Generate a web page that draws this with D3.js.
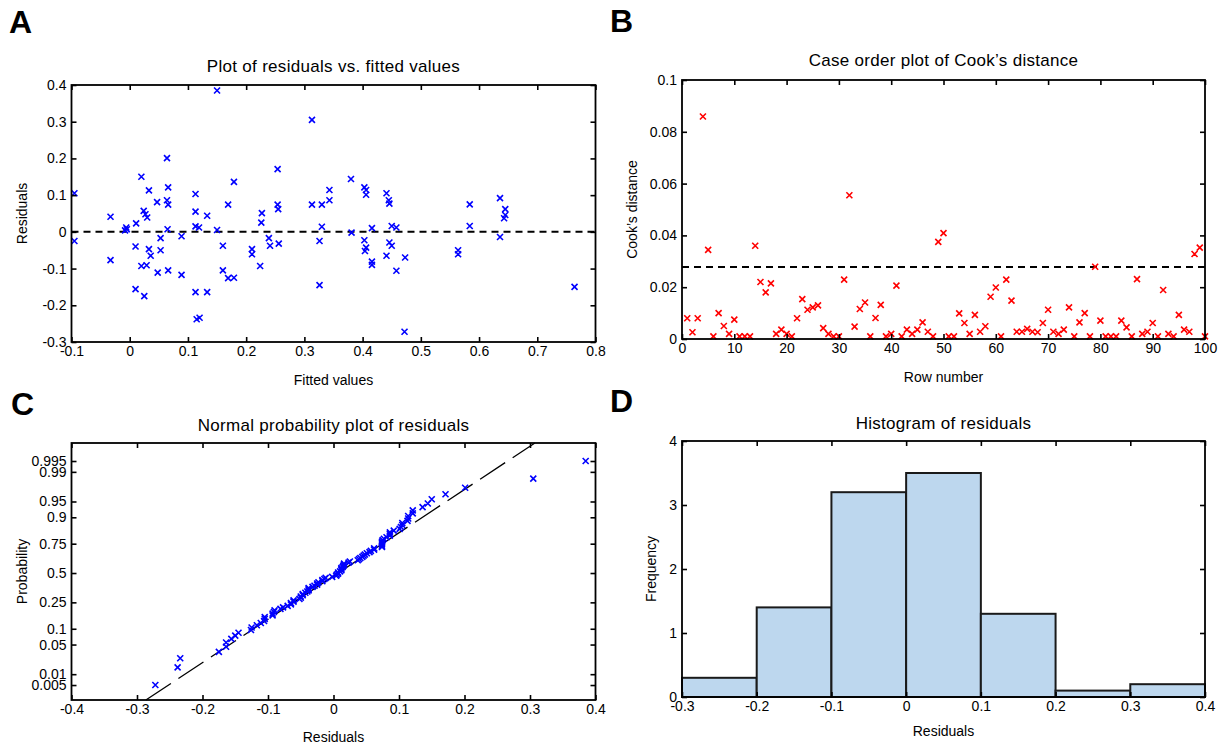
<!DOCTYPE html>
<html>
<head>
<meta charset="utf-8">
<script src="https://cdn.jsdelivr.net/npm/d3@7"></script>
<style>
  body { margin: 0; background: #fff; }
  svg { font-family: "Liberation Sans", Arial, Helvetica, sans-serif; }
</style>
</head>
<body>
<svg id="chart" width="1228" height="746"></svg>
<script>
// ---- data ----
// A: residuals vs fitted values (100 cases)
const fitted = [-0.095,-0.095,-0.033,-0.033,-0.006,-0.005,0.011,0.010,0.010,0.020,
  0.024,0.027,0.030,0.020,0.029,0.025,0.033,0.033,0.036,0.047,
  0.053,0.053,0.048,0.064,0.066,0.064,0.066,0.065,0.066,0.089,
  0.089,0.113,0.113,0.113,0.119,0.113,0.115,0.120,0.133,0.133,
  0.150,0.150,0.160,0.160,0.169,0.169,0.179,0.179,0.210,0.210,
  0.224,0.227,0.226,0.239,0.241,0.254,0.254,0.255,0.256,0.313,
  0.313,0.326,0.330,0.330,0.326,0.343,0.343,0.380,0.381,0.403,
  0.406,0.406,0.403,0.406,0.404,0.416,0.416,0.416,0.441,0.445,
  0.446,0.450,0.458,0.446,0.450,0.441,0.458,0.473,0.472,0.564,
  0.564,0.584,0.584,0.636,0.636,0.645,0.645,0.643,0.764,-0.008];
const residuals = [0.105,-0.025,0.041,-0.077,0.012,0.007,0.023,-0.040,-0.156,0.150,
  0.057,0.048,0.039,-0.093,-0.091,-0.175,0.113,-0.047,-0.065,0.081,
  -0.017,-0.050,-0.111,0.201,0.121,0.086,0.074,0.007,-0.105,-0.012,
  -0.117,0.103,0.055,0.015,0.012,-0.164,-0.238,-0.234,0.044,-0.164,
  0.385,0.005,-0.038,-0.105,0.074,-0.126,0.136,-0.125,-0.047,-0.061,
  -0.093,0.051,0.025,-0.017,-0.038,0.171,0.074,0.062,-0.032,0.305,
  0.074,-0.025,0.074,0.014,-0.145,0.114,0.086,0.144,-0.002,0.121,
  0.114,0.101,-0.023,-0.043,-0.052,0.010,-0.081,-0.090,0.105,0.086,
  0.077,0.016,0.012,-0.029,-0.038,-0.065,-0.106,-0.070,-0.272,-0.050,
  -0.061,0.075,0.016,0.092,-0.014,0.062,0.046,0.037,-0.150,0.004];

// B: Cook's distance by row number 1..100
const cooksD = [0.008,0.0026,0.008,0.0859,0.0344,0.001,0.010,0.005,0.002,0.0075,
  0.001,0.001,0.001,0.036,0.022,0.018,0.0215,0.002,0.0036,0.002,
  0.001,0.008,0.0154,0.0113,0.0122,0.013,0.0042,0.002,0.001,0.001,
  0.0229,0.0555,0.0048,0.0116,0.0141,0.001,0.0081,0.0132,0.001,0.002,
  0.0206,0.001,0.0036,0.002,0.0036,0.0064,0.0028,0.001,0.0375,0.0409,
  0.001,0.001,0.0099,0.0062,0.002,0.0093,0.0028,0.0049,0.0163,0.0199,
  0.001,0.0229,0.0148,0.0028,0.0028,0.0039,0.0028,0.0026,0.0062,0.0113,
  0.0028,0.002,0.0036,0.0122,0.001,0.0064,0.010,0.001,0.0279,0.0071,
  0.001,0.001,0.001,0.0071,0.0045,0.001,0.0231,0.002,0.0028,0.0062,
  0.001,0.0189,0.002,0.001,0.0093,0.0036,0.0028,0.0328,0.0353,0.001];
const cooksCutoff = 0.0278;

// C: probability tick labels and the reference line (mean + sd * z)
const probTicks = [0.005,0.01,0.05,0.1,0.25,0.5,0.75,0.9,0.95,0.99,0.995];
const probLabels = ["0.005","0.01","0.05","0.1","0.25","0.5","0.75","0.9","0.95","0.99","0.995"];
const refMean = 0.007, refSd = 0.1005;

// D: histogram of residuals
const binEdges = [-0.3,-0.2,-0.1,0,0.1,0.2,0.3,0.4];
const binHeights = [0.3,1.4,3.2,3.5,1.3,0.1,0.2];

// ---- helpers ----
const svg = d3.select("#chart");
const fmt = d => String(+(+d).toFixed(3));

// inverse of the standard normal cdf (Acklam)
function probit(p){
  const a=[-39.69683028665376,220.9460984245205,-275.9285104469687,138.3577518672690,-30.66479806614716,2.506628277459239],
        b=[-54.47609879822406,161.5858368580409,-155.6989798598866,66.80131188771972,-13.28068155288572],
        c=[-0.007784894002430293,-0.3223964580411365,-2.400758277161838,-2.549732539343734,4.374664141464968,2.938163982698783],
        d=[0.007784695709041462,0.3224671290700398,2.445134137142996,3.754408661907416];
  const lo=0.02425;
  let q,r;
  if(p<lo){
    q=Math.sqrt(-2*Math.log(p));
    return (((((c[0]*q+c[1])*q+c[2])*q+c[3])*q+c[4])*q+c[5])/((((d[0]*q+d[1])*q+d[2])*q+d[3])*q+1);
  }
  if(p>1-lo){
    q=Math.sqrt(-2*Math.log(1-p));
    return -(((((c[0]*q+c[1])*q+c[2])*q+c[3])*q+c[4])*q+c[5])/((((d[0]*q+d[1])*q+d[2])*q+d[3])*q+1);
  }
  q=p-0.5; r=q*q;
  return (((((a[0]*r+a[1])*r+a[2])*r+a[3])*r+a[4])*r+a[5])*q/(((((b[0]*r+b[1])*r+b[2])*r+b[3])*r+b[4])*r+1);
}

// MATLAB-like box: ticks pointing in on all four sides
function drawFrame(cfg){
  const g = svg.append("g");
  const x = cfg.x, y = cfg.y;
  const [x0,x1] = x.range(), [y1,y0] = y.range();

  let ab = d3.axisBottom(x).tickValues(cfg.xTicks).tickFormat(cfg.xFormat || fmt).tickSizeInner(-5).tickSizeOuter(0).tickPadding(4);
  let al = d3.axisLeft(y).tickValues(cfg.yTicks).tickFormat(cfg.yFormat || fmt).tickSizeInner(-5).tickSizeOuter(0).tickPadding(5);
  let at = d3.axisTop(x).tickValues(cfg.xTicks).tickFormat("").tickSizeInner(-5).tickSizeOuter(0);
  let ar = d3.axisRight(y).tickValues(cfg.yTicks).tickFormat("").tickSizeInner(-5).tickSizeOuter(0);

  g.append("g").attr("transform","translate(0,"+y1+")").call(ab);
  g.append("g").attr("transform","translate("+x0+",0)").call(al);
  g.append("g").attr("transform","translate(0,"+y0+")").call(at);
  g.append("g").attr("transform","translate("+x1+",0)").call(ar);
  g.selectAll(".domain").remove();
  g.selectAll(".tick line").attr("stroke","#000").attr("stroke-width",1.6);
  g.selectAll(".tick text").attr("fill","#000").style("font-size","14px");

  g.append("rect").attr("x",x0).attr("y",y0).attr("width",x1-x0).attr("height",y1-y0)
    .attr("fill","none").attr("stroke","#000").attr("stroke-width",1.8);

  const cx = (x0+x1)/2;
  svg.append("text").attr("x",cx).attr("y",cfg.titleY).attr("text-anchor","middle")
    .style("font-size","17px").style("letter-spacing","0.3px").text(cfg.title);
  svg.append("text").attr("x",cx).attr("y",cfg.xLabelY).attr("text-anchor","middle")
    .style("font-size","14px").text(cfg.xLabel);
  svg.append("text").attr("transform","translate("+cfg.yLabelX+","+((y0+y1)/2)+") rotate(-90)")
    .attr("text-anchor","middle").style("font-size","14px").text(cfg.yLabel);
  svg.append("text").attr("x",cfg.letter[1]).attr("y",cfg.letter[2])
    .style("font-size","32px").style("font-weight","bold").text(cfg.letter[0]);
  return g;
}

function crosses(g, data, xs, ys, color){
  g.selectAll(null).data(data).join("path")
    .attr("transform", d => "translate("+xs(d[0])+","+ys(d[1])+")")
    .attr("d","M-3,-3L3,3M-3,3L3,-3")
    .attr("stroke",color).attr("stroke-width",1.6).attr("fill","none");
}

// ---- A: residuals vs fitted ----
{
  const x = d3.scaleLinear().domain([-0.1,0.8]).range([71.5,595.5]);
  const y = d3.scaleLinear().domain([-0.3,0.4]).range([342,85]);
  const g = svg.append("g");
  g.append("line").attr("x1",x(-0.1)).attr("x2",x(0.8)).attr("y1",y(0)).attr("y2",y(0))
    .attr("stroke","#000").attr("stroke-width",2).attr("stroke-dasharray","7,5");
  crosses(g, fitted.map((f,i)=>[f,residuals[i]]), x, y, "#0000ff");
  drawFrame({x, y, xTicks:d3.range(-0.1,0.81,0.1), yTicks:d3.range(-0.3,0.41,0.1),
    title:"Plot of residuals vs. fitted values", titleY:72, xLabel:"Fitted values", xLabelY:385,
    yLabel:"Residuals", yLabelX:27, letter:["A",9,33]});
}

// ---- B: Cook's distance ----
{
  const x = d3.scaleLinear().domain([0,100]).range([682,1205]);
  const y = d3.scaleLinear().domain([0,0.1]).range([339,80]);
  const g = svg.append("g");
  g.append("line").attr("x1",x(0)).attr("x2",x(100)).attr("y1",y(cooksCutoff)).attr("y2",y(cooksCutoff))
    .attr("stroke","#000").attr("stroke-width",2).attr("stroke-dasharray","7,5");
  crosses(g, cooksD.map((v,i)=>[i+1,v]), x, y, "#ff0000");
  drawFrame({x, y, xTicks:d3.range(0,101,10), yTicks:d3.range(0,0.101,0.02),
    title:"Case order plot of Cook\u2019s distance", titleY:66, xLabel:"Row number", xLabelY:382,
    yLabel:"Cook\u2019s distance", yLabelX:637, letter:["B",610,32]});
}

// ---- C: normal probability plot ----
{
  const x = d3.scaleLinear().domain([-0.4,0.4]).range([71.5,595.5]);
  const y = d3.scaleLinear().domain([-2.92,2.99]).range([700,443]);
  const g = svg.append("g");
  const sorted = residuals.slice().sort(d3.ascending);
  const n = sorted.length;
  const pts = sorted.map((r,i)=>[r, probit((i+0.5)/n)]);
  // reference line: solid between quartiles, dashed outside
  const zq = probit(0.75);
  const [zl, zh] = y.domain();
  const line = d3.line().x(d=>x(refMean+refSd*d)).y(d=>y(d));
  g.append("path").attr("d",line([zl,-zq])).attr("stroke","#000").attr("stroke-width",1.3)
    .attr("fill","none").attr("stroke-dasharray","30,9");
  g.append("path").attr("d",line([zq,zh])).attr("stroke","#000").attr("stroke-width",1.3)
    .attr("fill","none").attr("stroke-dasharray","30,9");
  g.append("path").attr("d",line([-zq,zq])).attr("stroke","#000").attr("stroke-width",1.3).attr("fill","none");
  crosses(g, pts, x, y, "#0000ff");
  drawFrame({x, y, xTicks:d3.range(-0.4,0.41,0.1), yTicks:probTicks.map(probit),
    yFormat:(d,i)=>probLabels[i],
    title:"Normal probability plot of residuals", titleY:431, xLabel:"Residuals", xLabelY:742,
    yLabel:"Probability", yLabelX:27, letter:["C",11,415]});
}

// ---- D: histogram ----
{
  const x = d3.scaleLinear().domain([-0.3,0.4]).range([682,1205]);
  const y = d3.scaleLinear().domain([0,4]).range([697,441]);
  const g = svg.append("g");
  g.selectAll(null).data(binHeights).join("rect")
    .attr("x",(d,i)=>x(binEdges[i])).attr("width",(d,i)=>x(binEdges[i+1])-x(binEdges[i]))
    .attr("y",d=>y(d)).attr("height",d=>y(0)-y(d))
    .attr("fill","#bdd7ee").attr("stroke","#1a1a1a").attr("stroke-width",2);
  drawFrame({x, y, xTicks:binEdges, yTicks:d3.range(0,5,1),
    title:"Histogram of residuals", titleY:429, xLabel:"Residuals", xLabelY:736,
    yLabel:"Frequency", yLabelX:656, letter:["D",610,412]});
}
</script>
</body>
</html>
